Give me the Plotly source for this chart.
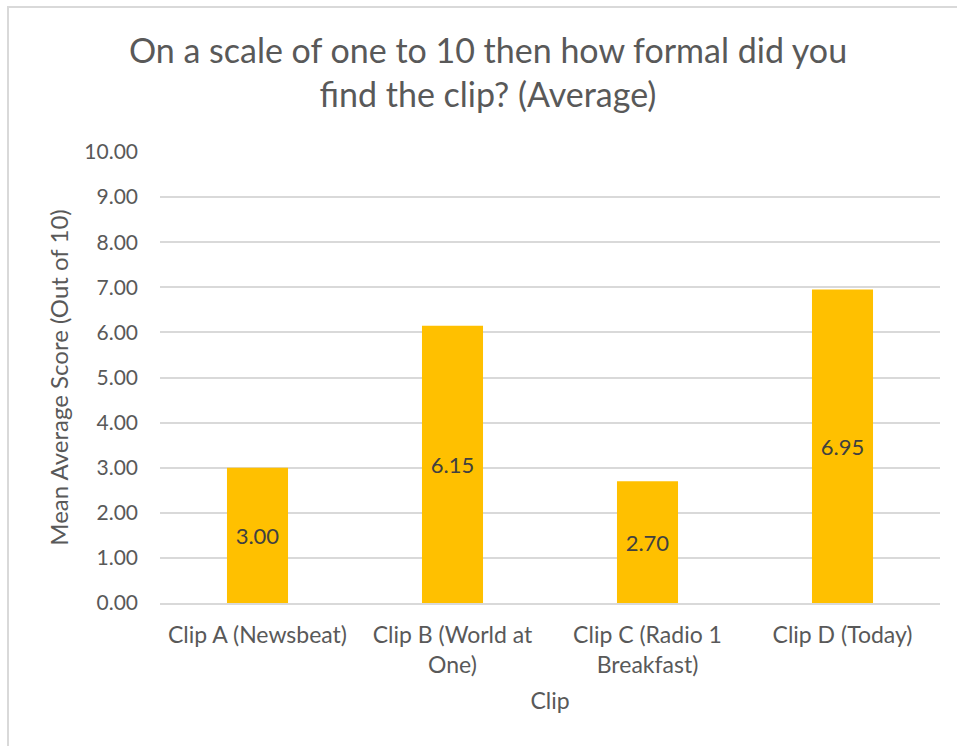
import plotly.graph_objects as go

# Survey results: mean formality score per radio clip
clips = [
    "Clip A (Newsbeat)",
    "Clip B (World at<br>One)",
    "Clip C (Radio 1<br>Breakfast)",
    "Clip D (Today)",
]
mean_scores = [3.00, 6.15, 2.70, 6.95]
y_ticks = [0, 1, 2, 3, 4, 5, 6, 7, 8, 9, 10]

FONT = "Lato"
TEXT_GREY = "#595959"
GRID_GREY = "#D9D9D9"
BAR_GOLD = "#FFC000"

W, H = 957, 746
M_L, M_R, M_T, M_B = 160, 17, 152, 143
plot_w = W - M_L - M_R
plot_h = H - M_T - M_B

fig = go.Figure(
    go.Bar(
        x=clips,
        y=mean_scores,
        marker=dict(color=BAR_GOLD, line=dict(width=0)),
        text=[f"{v:.2f}" for v in mean_scores],
        textposition="inside",
        insidetextanchor="middle",
        constraintext="none",
        textfont=dict(family=FONT, size=22, color="#404040"),
        hoverinfo="x+y",
    )
)

fig.update_layout(
    width=W,
    height=H,
    margin=dict(l=M_L, r=M_R, t=M_T, b=M_B, autoexpand=False),
    paper_bgcolor="white",
    plot_bgcolor="white",
    showlegend=False,
    bargap=0.687,
    font=dict(family=FONT, color=TEXT_GREY),
    title=dict(
        text="On a scale of one to 10 then how formal did you<br>find the clip? (Average)",
        x=488 / W,
        xanchor="center",
        y=1 - 63 / H,
        yanchor="top",
        yref="container",
        font=dict(family=FONT, size=34, color=TEXT_GREY),
    ),
    xaxis=dict(
        showgrid=False,
        showline=True,
        linecolor=GRID_GREY,
        linewidth=2,
        ticks="",
        ticklabelstandoff=10,
        tickfont=dict(family=FONT, size=23, color=TEXT_GREY),
        title=dict(text="Clip", font=dict(family=FONT, size=23, color=TEXT_GREY), standoff=16),
        automargin=False,
    ),
    yaxis=dict(
        range=[0, 10],
        tickvals=y_ticks,
        tickformat=".2f",
        showgrid=True,
        gridcolor=GRID_GREY,
        gridwidth=2,
        zeroline=False,
        showline=False,
        ticks="",
        ticklabelstandoff=21,
        tickfont=dict(family=FONT, size=21, color=TEXT_GREY),
        title=dict(
            text="Mean Average Score (Out of 10)",
            font=dict(family=FONT, size=24, color=TEXT_GREY),
            standoff=8,
        ),
        automargin=False,
    ),
    shapes=[
        # light frame round the chart area
        dict(
            type="rect",
            xref="paper",
            yref="paper",
            x0=(8 - M_L) / plot_w,
            x1=(962 - M_L) / plot_w,
            y0=(M_T + plot_h - 752) / plot_h,
            y1=(M_T + plot_h - 7) / plot_h,
            line=dict(color=GRID_GREY, width=2),
            fillcolor="rgba(0,0,0,0)",
            layer="below",
        )
    ],
)

fig.write_html("out.html")
